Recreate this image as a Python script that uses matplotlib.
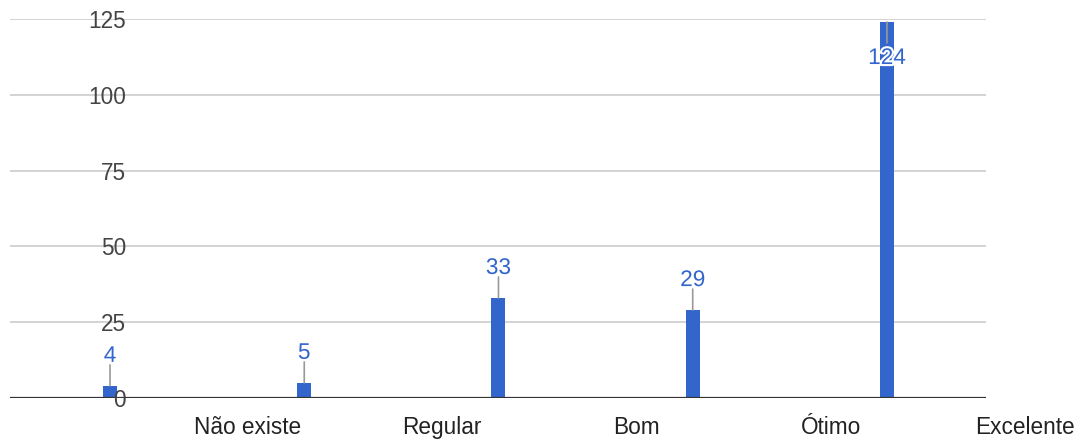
import matplotlib.pyplot as plt
import matplotlib.transforms as mtransforms
import matplotlib.patheffects as pe
import numpy as np

plt.rcParams['font.family'] = ['Liberation Sans', 'DejaVu Sans']

# data
categories = ['Não existe', 'Regular', 'Bom', 'Ótimo', 'Excelente']
counts = [4, 5, 33, 29, 124]
y_ticks = [0, 25, 50, 75, 100, 125]

bar_color = '#3366cc'
px = 72 / 100  # points per pixel at dpi 100
fs = 16.3

fig = plt.figure(figsize=(10.83, 4.4), dpi=100)
ax = fig.add_axes([10 / 1083, 42 / 440, 976 / 1083, 379 / 440])

x = np.arange(len(counts))
ax.bar(x, counts, width=0.072, color=bar_color, zorder=2)

ax.set_xlim(-0.515, 4.51)
ax.set_ylim(0, 125)

# gridlines and baseline
for t in y_ticks[1:]:
    ax.axhline(t, color='#cccccc', lw=1.2, zorder=1)
ax.axhline(0, color='#333333', lw=1.6, zorder=3)

# y tick labels drawn inside the plot area
ytrans = mtransforms.blended_transform_factory(ax.transAxes, ax.transData)
for t in y_ticks:
    ax.text(116 / 976, t, str(t), transform=ytrans, ha='right', va='center_baseline',
            fontsize=fs, color='#444444', zorder=4)

# category labels, shifted between the bars
xtrans = mtransforms.blended_transform_factory(ax.transData, ax.transAxes)
for i, c in enumerate(categories):
    ax.text(i + 0.71, -27 / 379, c, transform=xtrans, ha='center', va='center_baseline',
            fontsize=fs, color='#222222')

# value labels with leader lines
for xi, v in zip(x, counts):
    top_px = v / 125 * 379
    sign = 1 if top_px + 45 < 379 else -1
    ax.annotate('', xy=(xi, v), xytext=(0, sign * 21 * px), textcoords='offset points',
                arrowprops=dict(arrowstyle='-', color='#999999', lw=1.2,
                                shrinkA=0, shrinkB=0), zorder=3)
    ax.annotate(str(v), xy=(xi, v), xytext=(0, sign * 33 * px), textcoords='offset points',
                ha='center', va='center_baseline', fontsize=fs, color=bar_color, zorder=5,
                path_effects=[pe.withStroke(linewidth=3, foreground='white')])

ax.axis('off')
fig.savefig('out.png', dpi=100)
